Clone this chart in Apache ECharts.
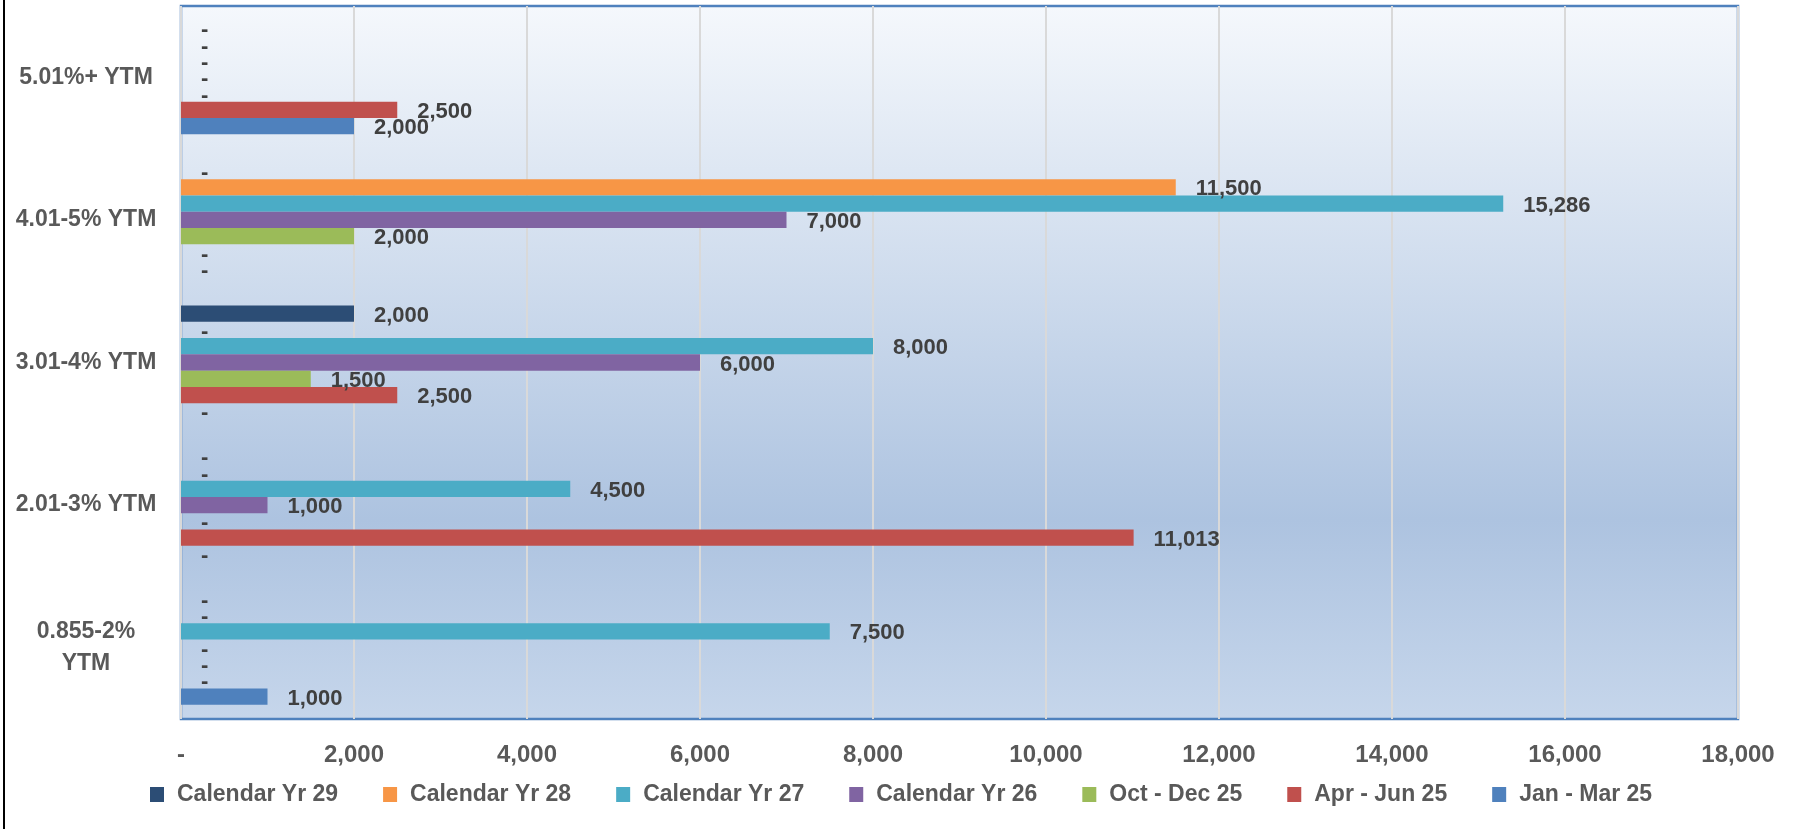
<!DOCTYPE html>
<html>
<head>
    <meta charset="utf-8">
    <title>YTM buckets</title>
    <script src="https://cdn.jsdelivr.net/npm/echarts@6/dist/echarts.min.js"></script>
    <style>
        html, body { margin: 0; padding: 0; background: #fff; }
    </style>
</head>
<body>
    <div id="main" style="width: 1795px;height: 829px;"></div>
    <script type="text/javascript">
// categories, bottom to top
var categories = ['0.855-2%\nYTM', '2.01-3% YTM', '3.01-4% YTM', '4.01-5% YTM', '5.01%+ YTM'];
// series, in legend order (top bar in each group first)
var seriesNames = ['Calendar Yr 29', 'Calendar Yr 28', 'Calendar Yr 27', 'Calendar Yr 26', 'Oct - Dec 25', 'Apr - Jun 25', 'Jan - Mar 25'];
var calYr29  = [0, 0, 2000, 0, 0];
var calYr28  = [0, 0, 0, 11500, 0];
var calYr27  = [7500, 4500, 8000, 15286, 0];
var calYr26  = [0, 1000, 6000, 7000, 0];
var octDec25 = [0, 0, 1500, 2000, 0];
var aprJun25 = [0, 11013, 2500, 0, 2500];
var janMar25 = [1000, 0, 0, 0, 2000];
var xTicks = [0, 2000, 4000, 6000, 8000, 10000, 12000, 14000, 16000, 18000];

var colors = ['#2c4d75', '#f79646', '#4bacc6', '#8064a2', '#9bbb59', '#c0504d', '#4f81bd'];
var font = '"Liberation Sans", Arial, sans-serif';

function fmt(v) {
    return v === 0 ? '-' : v.toLocaleString('en-US');
}

var myChart = echarts.init(document.getElementById('main'));
var allData = [calYr29, calYr28, calYr27, calYr26, octDec25, aprJun25, janMar25];

var series = allData.map(function (d, i) {
    return {
        name: seriesNames[i],
        type: 'bar',
        data: d,
        barGap: '0%',
        barCategoryGap: '20%',
        itemStyle: { color: colors[i] },
        label: {
            show: true,
            position: 'right',
            distance: 20,
            offset: [0, 2],
            color: '#404040',
            fontFamily: font,
            fontWeight: 'bold',
            fontSize: 22,
            formatter: function (p) { return fmt(p.value); }
        }
    };
});

myChart.setOption({
    animation: false,
    color: colors,
    graphic: [{
        type: 'line',
        shape: { x1: 4, y1: 0, x2: 4, y2: 829 },
        style: { stroke: '#000', lineWidth: 2 }
    }],
    legend: {
        data: seriesNames,
        left: 145,
        top: 778,
        itemWidth: 14,
        itemHeight: 15,
        itemGap: 45,
        icon: 'rect',
        textStyle: {
            color: '#595959',
            fontFamily: font,
            fontWeight: 'bold',
            fontSize: 23,
            padding: [0, 0, 0, 8]
        }
    },
    grid: {
        left: 181,
        right: 57,
        top: 6,
        bottom: 110,
        show: true,
        borderColor: '#4f81bd',
        borderWidth: 2.5,
        backgroundColor: {
            type: 'linear', x: 0, y: 0, x2: 0, y2: 1,
            colorStops: [
                { offset: 0, color: '#f5f8fc' },
                { offset: 0.72, color: '#adc3e0' },
                { offset: 1, color: '#c6d6eb' }
            ]
        }
    },
    xAxis: {
        type: 'value',
        min: 0,
        max: 18000,
        interval: 2000,
        axisLine: { show: false },
        axisTick: { show: false },
        splitLine: { show: true, lineStyle: { color: '#d9d9d9', width: 2 } },
        axisLabel: {
            margin: 24,
            color: '#595959',
            fontFamily: font,
            fontWeight: 'bold',
            fontSize: 24,
            formatter: function (v) { return xTicks.indexOf(v) >= 0 ? fmt(v) : ''; }
        }
    },
    yAxis: {
        type: 'category',
        data: categories,
        axisLine: { show: false },
        axisTick: { show: false },
        axisLabel: {
            margin: 95,
            align: 'center',
            lineHeight: 32,
            color: '#595959',
            fontFamily: font,
            fontWeight: 'bold',
            fontSize: 23
        }
    },
    series: series
});
    </script>
</body>
</html>
